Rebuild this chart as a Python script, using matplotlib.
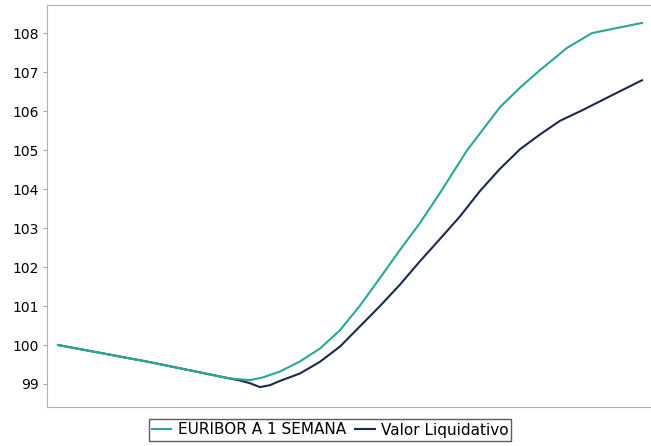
import matplotlib
matplotlib.use('Agg')
import matplotlib.pyplot as plt

# dias desde el inicio del periodo
dias_euribor = [0, 92, 172, 192, 205, 222, 242, 262, 282, 302, 322, 342,
                362, 382, 409, 442, 462, 482, 509, 534, 584]
euribor = [100.00, 99.56, 99.14, 99.10, 99.17, 99.32, 99.58, 99.91, 100.38,
           101.01, 101.72, 102.44, 103.13, 103.90, 104.99, 106.10, 106.60,
           107.05, 107.62, 108.00, 108.26]

dias_valor = [0, 92, 172, 182, 192, 202, 212, 222, 242, 262, 282, 302, 322,
              342, 362, 382, 402, 422, 442, 462, 482, 502, 525, 552, 584]
valor = [100.00, 99.56, 99.14, 99.09, 99.02, 98.92, 98.97, 99.08, 99.27,
         99.57, 99.96, 100.48, 101.00, 101.55, 102.15, 102.72, 103.30, 103.95,
         104.52, 105.02, 105.40, 105.75, 106.03, 106.38, 106.79]

ticks_y = [99, 100, 101, 102, 103, 104, 105, 106, 107, 108]

fig = plt.figure(figsize=(6.51, 4.46), dpi=100)
ax = fig.add_axes([47 / 651, 1 - 407 / 446, 610 / 651, 402 / 446])

l2, = ax.plot(dias_valor, valor, color='#1c2a50', lw=1.5, label='Valor Liquidativo')
l1, = ax.plot(dias_euribor, euribor, color='#2aa79b', lw=1.5, label='EURIBOR A 1 SEMANA')

ax.set_xlim(-11, 599)
ax.set_ylim(98.41, 108.72)
ax.set_yticks(ticks_y)
ax.set_xticks([])
ax.tick_params(axis='y', length=3, color='#aaaaaa', labelsize=10, pad=3)
for s in ax.spines.values():
    s.set_color('#b0b0b0')
ax.spines['right'].set_visible(False)

leg = fig.legend(handles=[l1, l2], loc='center', bbox_to_anchor=(330 / 651, 1 - 430 / 446),
                 ncol=2, frameon=True, fancybox=False, fontsize=11, handlelength=1.3,
                 handletextpad=0.4, columnspacing=0.6, borderpad=0.2, borderaxespad=0)
leg.get_frame().set_edgecolor('#333333')
leg.get_frame().set_linewidth(1.0)

fig.savefig('out.png', dpi=100)
